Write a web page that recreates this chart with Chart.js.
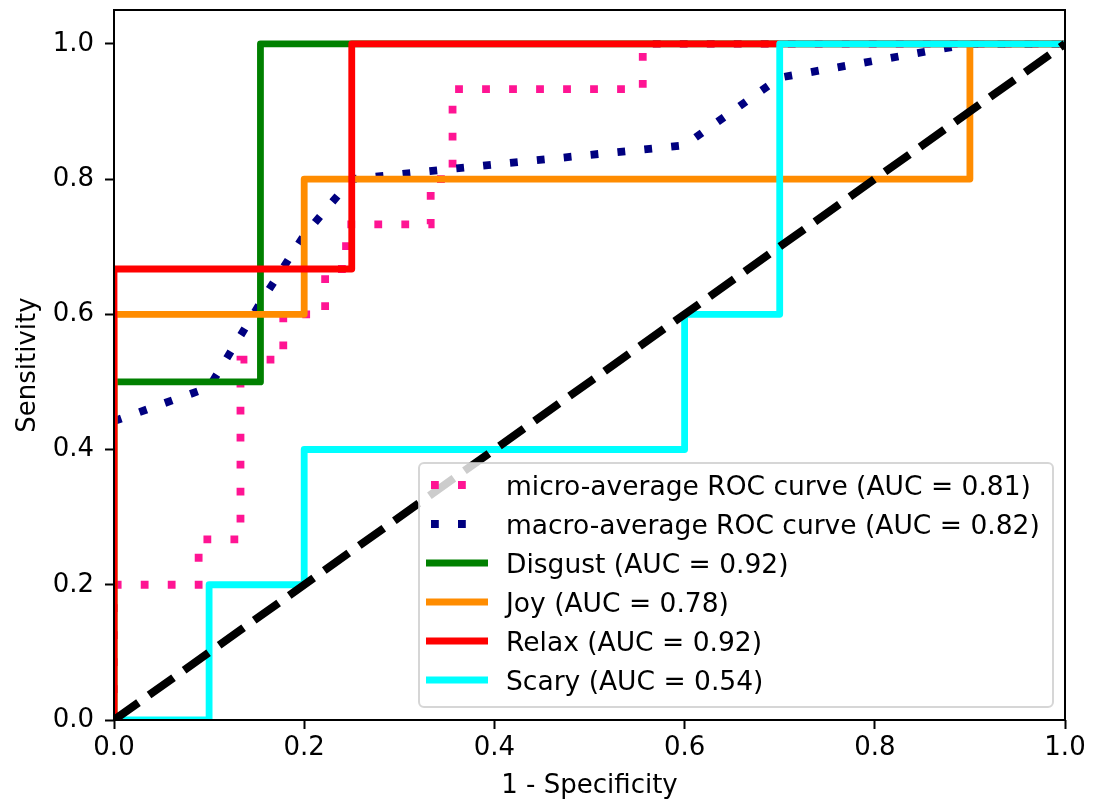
<!DOCTYPE html>
<html>
<head>
<meta charset="utf-8">
<script src="https://cdn.jsdelivr.net/npm/chart.js@4.4.1/dist/chart.umd.min.js"></script>
<style>
  html, body { margin: 0; padding: 0; background: #ffffff; }
  #wrap { width: 1103px; height: 799px; }
</style>
</head>
<body>
<div id="wrap"><canvas id="c" width="1103" height="799"></canvas></div>
<script>
// ---- data ----
const xTicks = [0.0, 0.2, 0.4, 0.6, 0.8, 1.0];
const yTicks = [0.0, 0.2, 0.4, 0.6, 0.8, 1.0];

const microFpr = [0, 0, 0.089, 0.089, 0.133, 0.133, 0.178, 0.178, 0.222, 0.222, 0.244, 0.244, 0.333, 0.333, 0.356, 0.356, 0.556, 0.556, 1.0];
const microTpr = [0, 0.2, 0.2, 0.267, 0.267, 0.533, 0.533, 0.6, 0.6, 0.667, 0.667, 0.733, 0.733, 0.8, 0.8, 0.933, 0.933, 1.0, 1.0];

const macroFpr = [0, 0.1, 0.154, 0.2, 0.25, 0.6, 0.7, 0.9, 1.0];
const macroTpr = [0.442, 0.492, 0.617, 0.717, 0.8, 0.85, 0.95, 1.0, 1.0];

const disgustFpr = [0, 0, 0.154, 0.154, 1.0];
const disgustTpr = [0, 0.5, 0.5, 1.0, 1.0];

const joyFpr = [0, 0, 0.2, 0.2, 0.9, 0.9, 1.0];
const joyTpr = [0, 0.6, 0.6, 0.8, 0.8, 1.0, 1.0];

const relaxFpr = [0, 0, 0.25, 0.25, 1.0];
const relaxTpr = [0, 0.667, 0.667, 1.0, 1.0];

const scaryFpr = [0, 0.1, 0.1, 0.2, 0.2, 0.6, 0.6, 0.7, 0.7, 1.0];
const scaryTpr = [0, 0, 0.2, 0.2, 0.4, 0.4, 0.6, 0.6, 1.0, 1.0];

const chanceFpr = [0, 1];
const chanceTpr = [0, 1];

const classNames = ['Disgust', 'Joy', 'Relax', 'Scary'];
const classAuc = [0.92, 0.78, 0.92, 0.54];
const microAuc = 0.81;
const macroAuc = 0.82;

const xTitle = '1 - Specificity';
const yTitle = 'Sensitivity';

// ---- helpers ----
const pts = (xs, ys) => xs.map((x, i) => ({ x: x, y: ys[i] }));
const FONT = 'DejaVu Sans';

const solidW = 6.8;
const dotW = 7.8;

function ds(label, xs, ys, color, width, dash, order) {
  return {
    label: label,
    data: pts(xs, ys),
    borderColor: color,
    backgroundColor: color,
    borderWidth: width,
    borderDash: dash,
    borderCapStyle: 'butt',
    borderJoinStyle: dash.length ? 'miter' : 'round',
    pointRadius: 0,
    pointHoverRadius: 0,
    showLine: true,
    fill: false,
    tension: 0,
    clip: 0,
    order: order
  };
}

const datasets = [
  ds('micro-average ROC curve (AUC = ' + microAuc.toFixed(2) + ')', microFpr, microTpr, '#ff1493', dotW, [7.8, 19.2], 9),
  ds('macro-average ROC curve (AUC = ' + macroAuc.toFixed(2) + ')', macroFpr, macroTpr, '#000080', dotW, [7.8, 19.2], 8),
  ds(classNames[0] + ' (AUC = ' + classAuc[0].toFixed(2) + ')', disgustFpr, disgustTpr, '#008000', solidW, [], 7),
  ds(classNames[1] + ' (AUC = ' + classAuc[1].toFixed(2) + ')', joyFpr, joyTpr, '#ff8c00', solidW, [], 6),
  ds(classNames[2] + ' (AUC = ' + classAuc[2].toFixed(2) + ')', relaxFpr, relaxTpr, '#ff0000', solidW, [], 5),
  ds(classNames[3] + ' (AUC = ' + classAuc[3].toFixed(2) + ')', scaryFpr, scaryTpr, '#00ffff', solidW, [], 4),
  ds('', chanceFpr, chanceTpr, '#000000', 8, [30, 13], 1)
];
const legendCount = 6;

// frame (spines) drawn over the data
const framePlugin = {
  id: 'frame',
  afterDatasetsDraw(chart) {
    const { ctx, chartArea: a } = chart;
    ctx.save();
    ctx.strokeStyle = '#000000';
    ctx.lineWidth = 2;
    ctx.strokeRect(a.left, a.top, a.right - a.left, a.bottom - a.top);
    ctx.restore();
  }
};

// matplotlib-style legend inside the axes
const legendPlugin = {
  id: 'innerLegend',
  afterDraw(chart) {
    const { ctx } = chart;
    const bx = 419, by = 463, bw = 634, bh = 244, r = 5;
    ctx.save();
    ctx.beginPath();
    ctx.moveTo(bx + r, by);
    ctx.arcTo(bx + bw, by, bx + bw, by + bh, r);
    ctx.arcTo(bx + bw, by + bh, bx, by + bh, r);
    ctx.arcTo(bx, by + bh, bx, by, r);
    ctx.arcTo(bx, by, bx + bw, by, r);
    ctx.closePath();
    ctx.fillStyle = 'rgba(255,255,255,0.8)';
    ctx.fill();
    ctx.strokeStyle = 'rgba(204,204,204,0.8)';
    ctx.lineWidth = 2;
    ctx.stroke();

    const fs = 26.5;
    ctx.font = fs + 'px "' + FONT + '"';
    ctx.textAlign = 'left';
    ctx.textBaseline = 'alphabetic';
    for (let i = 0; i < legendCount; i++) {
      const d = chart.data.datasets[i];
      const cy = 485 + i * 39;
      const dashed = d.borderDash.length > 0;
      ctx.beginPath();
      ctx.strokeStyle = d.borderColor;
      ctx.lineWidth = d.borderWidth;
      ctx.setLineDash(d.borderDash);
      ctx.lineCap = 'butt';
      ctx.moveTo(dashed ? 431 : 426, cy);
      ctx.lineTo(dashed ? 470 : 488, cy);
      ctx.stroke();
      ctx.setLineDash([]);
      ctx.fillStyle = '#000000';
      ctx.fillText(d.label, 506, cy + 0.36 * fs);
    }
    ctx.restore();
  }
};

new Chart(document.getElementById('c'), {
  type: 'scatter',
  data: { datasets: datasets },
  plugins: [framePlugin, legendPlugin],
  options: {
    responsive: false,
    animation: false,
    devicePixelRatio: 1,
    layout: { padding: { top: 10, right: 38, left: 0, bottom: 0 } },
    plugins: {
      legend: { display: false },
      tooltip: { enabled: false },
      title: { display: false }
    },
    scales: {
      x: {
        type: 'linear',
        min: 0,
        max: 1.0,
        afterFit(scale) {
          scale.height = 79;
          scale.paddingLeft = 0; scale.paddingRight = 0;
          scale.paddingTop = 0; scale.paddingBottom = 0;
        },
        afterBuildTicks(scale) { scale.ticks = xTicks.map(v => ({ value: v })); },
        border: { display: false },
        grid: {
          display: true,
          drawOnChartArea: false,
          drawTicks: true,
          tickLength: 9,
          tickWidth: 2,
          tickColor: '#000000'
        },
        ticks: {
          padding: 4,
          color: '#000000',
          font: { family: FONT, size: 26, lineHeight: 1.2 },
          maxRotation: 0,
          autoSkip: false,
          callback: v => Number(v).toFixed(1)
        },
        title: {
          display: true,
          text: xTitle,
          color: '#000000',
          font: { family: FONT, size: 26, lineHeight: 1.0 },
          padding: { top: 0, bottom: 0 }
        }
      },
      y: {
        type: 'linear',
        min: 0,
        max: 1.05,
        afterFit(scale) {
          scale.width = 114;
          scale.paddingLeft = 0; scale.paddingRight = 0;
          scale.paddingTop = 0; scale.paddingBottom = 0;
        },
        afterBuildTicks(scale) { scale.ticks = yTicks.map(v => ({ value: v })); },
        border: { display: false },
        grid: {
          display: true,
          drawOnChartArea: false,
          drawTicks: true,
          tickLength: 9,
          tickWidth: 2,
          tickColor: '#000000'
        },
        ticks: {
          padding: 11,
          color: '#000000',
          font: { family: FONT, size: 26, lineHeight: 1.2 },
          autoSkip: false,
          callback: v => Number(v).toFixed(1)
        },
        title: {
          display: true,
          text: yTitle,
          color: '#000000',
          font: { family: FONT, size: 26, lineHeight: 1.0 },
          padding: { top: 15, bottom: 0 }
        }
      }
    }
  }
});
</script>
</body>
</html>
